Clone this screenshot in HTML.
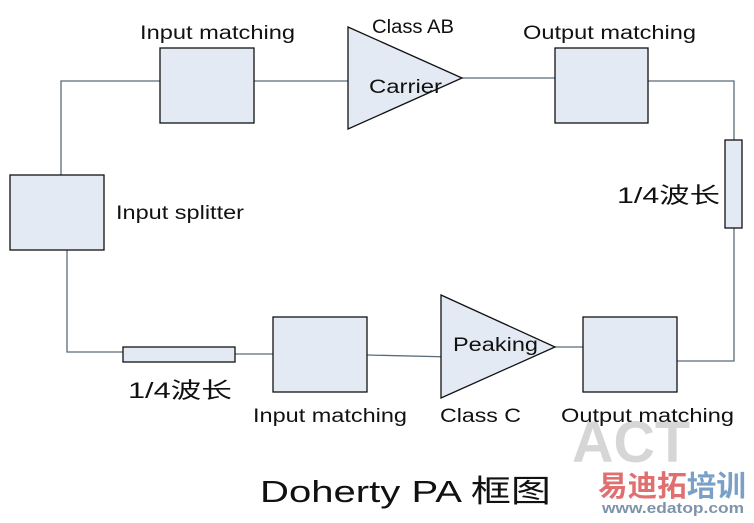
<!DOCTYPE html>
<html><head><meta charset="utf-8"><style>
body{margin:0;background:#fff;}
svg text{font-family:"Liberation Sans","Noto Sans CJK SC",sans-serif;fill:#111;}
</style></head><body>
<svg width="754" height="518" viewBox="0 0 754 518" xmlns="http://www.w3.org/2000/svg">
<g stroke="#5a6b7a" stroke-width="1.3" fill="none">
<polyline points="160,81 61,81 61,175"/>
<line x1="254" y1="81" x2="348" y2="81"/>
<line x1="462" y1="78" x2="555" y2="78"/>
<polyline points="648,81 734,81 734,140"/>
<polyline points="734,228 734,361 677,361"/>
<line x1="555" y1="347" x2="583" y2="347"/>
<line x1="367" y1="355" x2="452" y2="357"/>
<line x1="235" y1="354" x2="273" y2="354"/>
<polyline points="67,250 67,352 123,352"/>
</g>
<g fill="#e4eaf4" stroke="#111" stroke-width="1.3">
<rect x="160" y="48" width="94" height="75"/>
<rect x="10" y="175" width="94" height="75"/>
<rect x="555" y="48" width="93" height="75"/>
<rect x="725" y="140" width="17" height="88"/>
<rect x="583" y="317" width="94" height="75"/>
<rect x="273" y="317" width="94" height="75"/>
<rect x="123" y="347" width="112" height="15"/>
<polygon points="348,27 462,78 348,129"/>
<polygon points="441,295 555,347 441,398"/>
</g>
<text x="572" y="462" font-size="58" font-weight="bold" style="fill:#bbb;opacity:0.6" textLength="118" lengthAdjust="spacingAndGlyphs">ACT</text>
<g font-size="19">
<text x="140" y="39" textLength="155" lengthAdjust="spacingAndGlyphs">Input matching</text>
<text x="372" y="33" textLength="82" lengthAdjust="spacingAndGlyphs">Class AB</text>
<text x="369" y="93" textLength="73" lengthAdjust="spacingAndGlyphs">Carrier</text>
<text x="523" y="39" textLength="173" lengthAdjust="spacingAndGlyphs">Output matching</text>
<text x="116" y="219" textLength="128" lengthAdjust="spacingAndGlyphs">Input splitter</text>
<text x="453" y="351" textLength="85" lengthAdjust="spacingAndGlyphs">Peaking</text>
<text x="253" y="422" textLength="154" lengthAdjust="spacingAndGlyphs">Input matching</text>
<text x="440" y="422" textLength="81" lengthAdjust="spacingAndGlyphs">Class C</text>
<text x="561" y="422" textLength="173" lengthAdjust="spacingAndGlyphs">Output matching</text>
</g>
<text x="617" y="203" font-size="22" textLength="103" lengthAdjust="spacingAndGlyphs">1/4波长</text>
<text x="128" y="398" font-size="22" textLength="104" lengthAdjust="spacingAndGlyphs">1/4波长</text>
<text x="260" y="502" font-size="31" textLength="291" lengthAdjust="spacingAndGlyphs">Doherty PA 框图</text>
<text x="598" y="496" font-size="29" font-weight="bold" style="fill:#e07070" textLength="148" lengthAdjust="spacingAndGlyphs">易迪拓<tspan style="fill:#7aa0c8">培训</tspan></text>
<text x="602" y="513" font-size="15" font-weight="bold" style="fill:#7d93aa" textLength="142" lengthAdjust="spacingAndGlyphs">www.edatop.com</text>
</svg>
</body></html>
